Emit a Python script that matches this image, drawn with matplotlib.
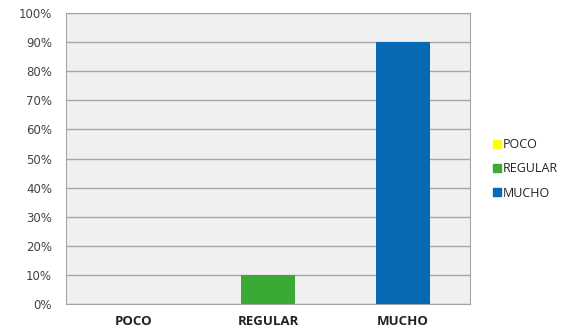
import matplotlib.pyplot as plt
from matplotlib.patches import Patch
from matplotlib.ticker import PercentFormatter

categories = ["POCO", "REGULAR", "MUCHO"]
values = [0, 10, 90]
colors = ["#ffff00", "#3aaa35", "#0569b3"]

plt.rcParams['font.family'] = ['Open Sans', 'DejaVu Sans']

fig = plt.figure(figsize=(5.76, 3.3), dpi=100)
ax = fig.add_axes([66 / 576, 1 - 304 / 330, 404 / 576, 291 / 330])
ax.set_facecolor("#f0f0f0")

x = range(len(categories))
ax.bar(x, values, width=0.4, color=colors, zorder=3)

ax.set_xlim(-0.5, 2.5)
ax.set_ylim(0, 100)
ax.set_yticks(range(0, 101, 10))
ax.yaxis.set_major_formatter(PercentFormatter(decimals=0))
ax.set_xticks(list(x))
ax.set_xticklabels(categories, fontsize=9.5, fontweight="bold", color="#222222")
for t in ax.get_yticklabels():
    t.set_family("DejaVu Sans")
ax.tick_params(axis="y", labelsize=8.5, labelcolor="#444444", length=0, pad=10)
ax.tick_params(axis="x", length=0, pad=8)
ax.grid(axis="y", color="#a6a6a6", linewidth=1, zorder=0)
for s in ax.spines.values():
    s.set_color("#a6a6a6")

handles = [Patch(color=c, label=l) for c, l in zip(colors, categories)]
fig.legend(handles=handles, loc="center left", bbox_to_anchor=(482 / 576, 1 - 169 / 330),
           frameon=False, fontsize=9, handlelength=0.6, handleheight=0.6,
           handletextpad=0.2, labelspacing=0.9, labelcolor="#222222")

fig.savefig("out.png", dpi=100)
